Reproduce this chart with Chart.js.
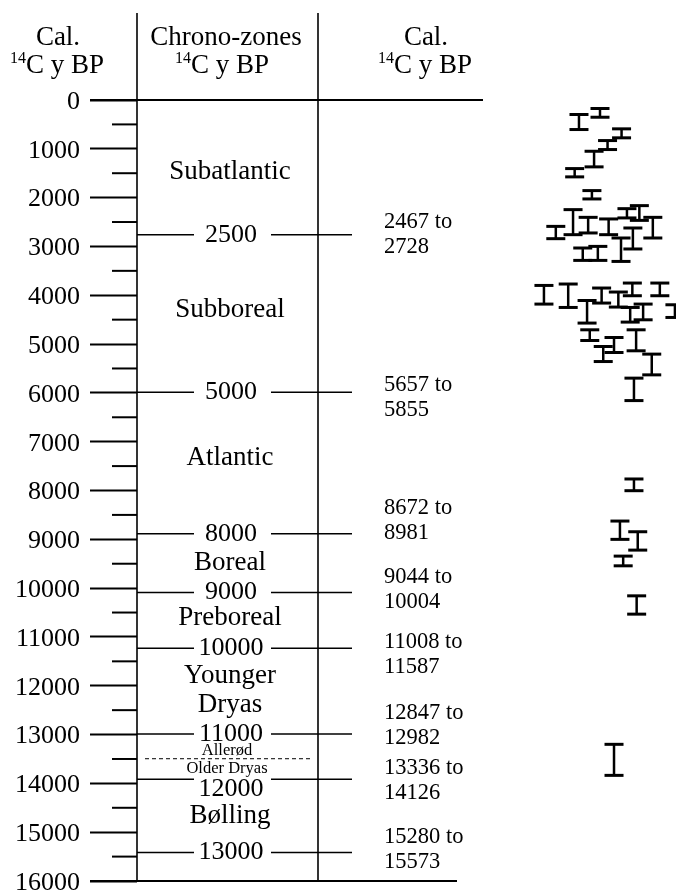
<!DOCTYPE html>
<html><head><meta charset="utf-8">
<script src="https://cdn.jsdelivr.net/npm/chart.js@4.4.1/dist/chart.umd.min.js"></script>
<style>html,body{margin:0;padding:0;background:#fff}canvas{display:block}</style>
</head><body>
<canvas id="c" width="676" height="890"></canvas>
<script>
// ---- data ----
const majorTicks = [0,1000,2000,3000,4000,5000,6000,7000,8000,9000,10000,11000,12000,13000,14000,15000,16000];
const minorTicks = [500,1500,2500,3500,4500,5500,6500,7500,8500,9500,10500,11500,12500,13500,14500,15500];

const boundaryCal    = [2759, 5986, 8886, 10088, 11231, 12988, 13918, 15415];
const boundaryLabels = ['2500','5000','8000','9000','10000','11000','12000','13000'];
const boundaryLabelAt= [2759, 5986, 8886, 10088, 11231, 12988, 14125, 15415];

const zoneNames = ['Subatlantic','Subboreal','Atlantic','Boreal','Preboreal','Younger','Dryas','Bølling'];
const zoneAt    = [1470, 4300, 7330, 9490, 10620, 11790, 12400, 14660];
const subZoneNames = ['Allerød','Older Dryas'];
const subZoneAt    = [13330, 13690];
const subZoneDivide = 13495;

const rangeFrom = ['2467','5657','8672','9044','11008','12847','13336','15280'];
const rangeTo   = ['2728','5855','8981','10004','11587','12982','14126','15573'];
const rangeAt   = [2749, 6092, 8615, 10031, 11354, 12821, 13938, 15364];

// calibrated age ranges of individual samples (lane = horizontal offset, 0-100)
const errLane = [82.0,85.9,89.9,87.3,84.8,81.2,84.4,80.9,77.7,83.7,87.5,90.9,93.2,95.7,92.0,89.8,82.7,85.5,
                 75.5,80.0,83.5,86.2,89.3,91.9,97.0,91.5,93.9,99.8,84.0,88.5,86.5,92.6,95.5,92.2,
                 92.2,89.6,92.9,90.2,92.7,88.5];
const errLow  = [297,174,591,831,1050,1405,1856,2246,2589,2404,2437,2226,2164,2404,2622,2827,3032,2999,
                 3799,3770,4107,3852,3934,3750,3750,4250,4181,4195,4708,4866,5050,4708,5206,5698,
                 7764,8626,8845,9344,10158,13200];
const errHigh = [605,353,775,1015,1370,1575,2027,2759,2841,2724,2759,2416,2466,2827,3052,3307,3286,3286,
                 4181,4250,4570,4160,4242,4010,4010,4550,4503,4455,4927,5173,5358,5138,5631,6158,
                 8004,9001,9221,9543,10533,13836];

// ---- drawing ----
const SERIF = '"Liberation Serif", "Times New Roman", serif';

function seg(ctx,x1,y1,x2,y2){ctx.beginPath();ctx.moveTo(x1,y1);ctx.lineTo(x2,y2);ctx.stroke();}

function supLabel(ctx,cx,base){
  ctx.font = '16px '+SERIF; const w1 = ctx.measureText('14').width;
  ctx.font = '27px '+SERIF; const w2 = ctx.measureText('C y BP').width;
  const x0 = cx-(w1+w2)/2;
  ctx.textAlign='left'; ctx.textBaseline='alphabetic';
  ctx.font = '16px '+SERIF; ctx.fillText('14',x0,base-10);
  ctx.font = '27px '+SERIF; ctx.fillText('C y BP',x0+w1,base);
}

const tablePlugin = {
  id:'table',
  afterDraw(chart){
    const ctx = chart.ctx, ys = chart.scales.y, xs = chart.scales.x;
    const Y = v => ys.getPixelForValue(v);
    const yTop = Y(0), yBot = Y(16000);
    ctx.save();
    ctx.strokeStyle='#000'; ctx.fillStyle='#000';
    // minor ticks
    ctx.lineWidth=2;
    minorTicks.forEach(v=>seg(ctx,112,Y(v),137,Y(v)));
    // column lines
    ctx.lineWidth=1.6;
    seg(ctx,137,13,137,yBot); seg(ctx,318,13,318,yBot);
    ctx.lineWidth=2;
    seg(ctx,90,yTop,483,yTop); seg(ctx,90,yBot,457,yBot);
    // headers
    ctx.font='27px '+SERIF; ctx.textAlign='center'; ctx.textBaseline='alphabetic';
    ctx.fillText('Cal.',58,45); ctx.fillText('Chrono-zones',226,45); ctx.fillText('Cal.',426,45);
    supLabel(ctx,57,73); supLabel(ctx,222,73); supLabel(ctx,425,73);
    // boundaries
    ctx.lineWidth=1.5;
    boundaryCal.forEach((v,i)=>{
      const py=Y(v);
      seg(ctx,137,py,194,py); seg(ctx,271,py,352,py);
      ctx.font='26px '+SERIF; ctx.textAlign='center'; ctx.textBaseline='middle';
      ctx.fillText(boundaryLabels[i],231,Y(boundaryLabelAt[i]));
    });
    // zone names
    ctx.font='27px '+SERIF; ctx.textAlign='center'; ctx.textBaseline='middle';
    zoneNames.forEach((n,i)=>ctx.fillText(n,230,Y(zoneAt[i])));
    ctx.font='16.5px '+SERIF;
    subZoneNames.forEach((n,i)=>ctx.fillText(n,227,Y(subZoneAt[i])));
    ctx.lineWidth=1; ctx.setLineDash([4,3]);
    seg(ctx,145,Y(subZoneDivide),313,Y(subZoneDivide));
    ctx.setLineDash([]);
    // range labels
    ctx.font='22.5px '+SERIF; ctx.textAlign='left'; ctx.textBaseline='middle';
    rangeAt.forEach((v,i)=>{
      const py=Y(v);
      ctx.fillText(rangeFrom[i]+' to',384,py-12.5);
      ctx.fillText(rangeTo[i],384,py+12.5);
    });
    // error bars
    errLane.forEach((l,i)=>{
      const px=xs.getPixelForValue(l), y1=Y(errLow[i]), y2=Y(errHigh[i]);
      ctx.lineWidth=2.5; seg(ctx,px,y1,px,y2);
      ctx.lineWidth=3; seg(ctx,px-9.5,y1,px+9.5,y1); seg(ctx,px-9.5,y2,px+9.5,y2);
    });
    ctx.restore();
  }
};

new Chart(document.getElementById('c'),{
  type:'scatter',
  data:{datasets:[{data:errLane.map((l,i)=>({x:l,y:(errLow[i]+errHigh[i])/2})),pointRadius:0,showLine:false}]},
  options:{
    responsive:false, animation:false, devicePixelRatio:1,
    layout:{padding:{top:100,bottom:9,left:0,right:0}},
    plugins:{legend:{display:false},tooltip:{enabled:false}},
    scales:{
      x:{type:'linear',min:0,max:100,display:false},
      y:{type:'linear',reverse:true,min:0,max:16000,position:'left',
        afterBuildTicks:s=>{s.ticks=majorTicks.map(v=>({value:v}));},
        afterFit:s=>{s.width=137;s.paddingTop=0;s.paddingBottom=0;},
        ticks:{autoSkip:false,padding:10,labelOffset:2,color:'#000',font:{family:SERIF,size:26,lineHeight:1},callback:v=>String(v)},
        grid:{drawOnChartArea:false,drawTicks:true,tickLength:47,tickWidth:2,tickColor:'#000'},
        border:{display:false}
      }
    }
  },
  plugins:[tablePlugin]
});
</script>
</body></html>
